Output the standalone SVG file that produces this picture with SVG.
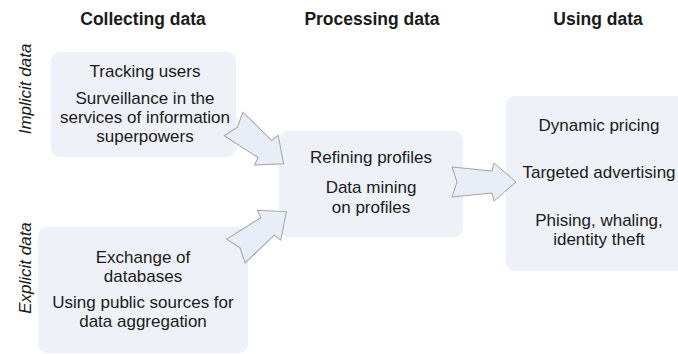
<svg xmlns="http://www.w3.org/2000/svg" width="678" height="354" viewBox="0 0 678 354">
<style>
.box{fill:#eef2f8;stroke:none}
.arr{fill:#e8eef7;stroke:#a3a3a3;stroke-width:1}
text{font-family:"Liberation Sans",Arial,sans-serif;fill:#1a1a1a;text-anchor:middle}
.h{font-weight:bold;font-size:17.5px}
.t{font-size:17px}
.side{font-style:italic;font-size:17px}
</style>
<defs>
<polygon id="ba" points="0,-15 40,-11 42,-19 64,0 42,19 40,11 0,15 5,0"/>
</defs>
<rect width="678" height="354" fill="#ffffff"/>
<g id="headers">
<text class="h" x="143" y="25">Collecting data</text>
<text class="h" x="372" y="25">Processing data</text>
<text class="h" x="598" y="25">Using data</text>
</g>
<g id="side-labels">
<text class="side" transform="translate(31,89) rotate(-90)">Implicit data</text>
<text class="side" transform="translate(31,268) rotate(-90)">Explicit data</text>
</g>
<g id="tracking">
<rect class="box" x="51" y="52" width="185" height="105" rx="9"/>
<text class="t" x="145" y="77">Tracking users</text>
<text class="t" x="145" y="104">Surveillance in the</text>
<text class="t" x="145" y="123">services of information</text>
<text class="t" x="145" y="142">superpowers</text>
</g>
<g id="exchange">
<rect class="box" x="38" y="227" width="210" height="126" rx="9"/>
<text class="t" x="143" y="263">Exchange of</text>
<text class="t" x="143" y="282">databases</text>
<text class="t" x="143" y="308">Using public sources for</text>
<text class="t" x="143" y="327">data aggregation</text>
</g>
<g id="refining">
<rect class="box" x="279" y="131" width="184" height="106" rx="9"/>
<text class="t" x="371" y="163">Refining profiles</text>
<text class="t" x="371" y="193">Data mining</text>
<text class="t" x="371" y="213">on profiles</text>
</g>
<g id="using">
<rect class="box" x="506" y="96" width="190" height="175" rx="9"/>
<text class="t" x="599" y="131">Dynamic pricing</text>
<text class="t" x="599" y="178">Targeted advertising</text>
<text class="t" x="599" y="226">Phising, whaling,</text>
<text class="t" x="599" y="245">identity theft</text>
</g>
<g id="connectors">
<use href="#ba" class="arr" transform="translate(233.5,124) rotate(38.5)"/>
<use href="#ba" class="arr" transform="translate(236,251) rotate(-38)"/>
<use href="#ba" class="arr" transform="translate(452,182)"/>
</g>
</svg>
